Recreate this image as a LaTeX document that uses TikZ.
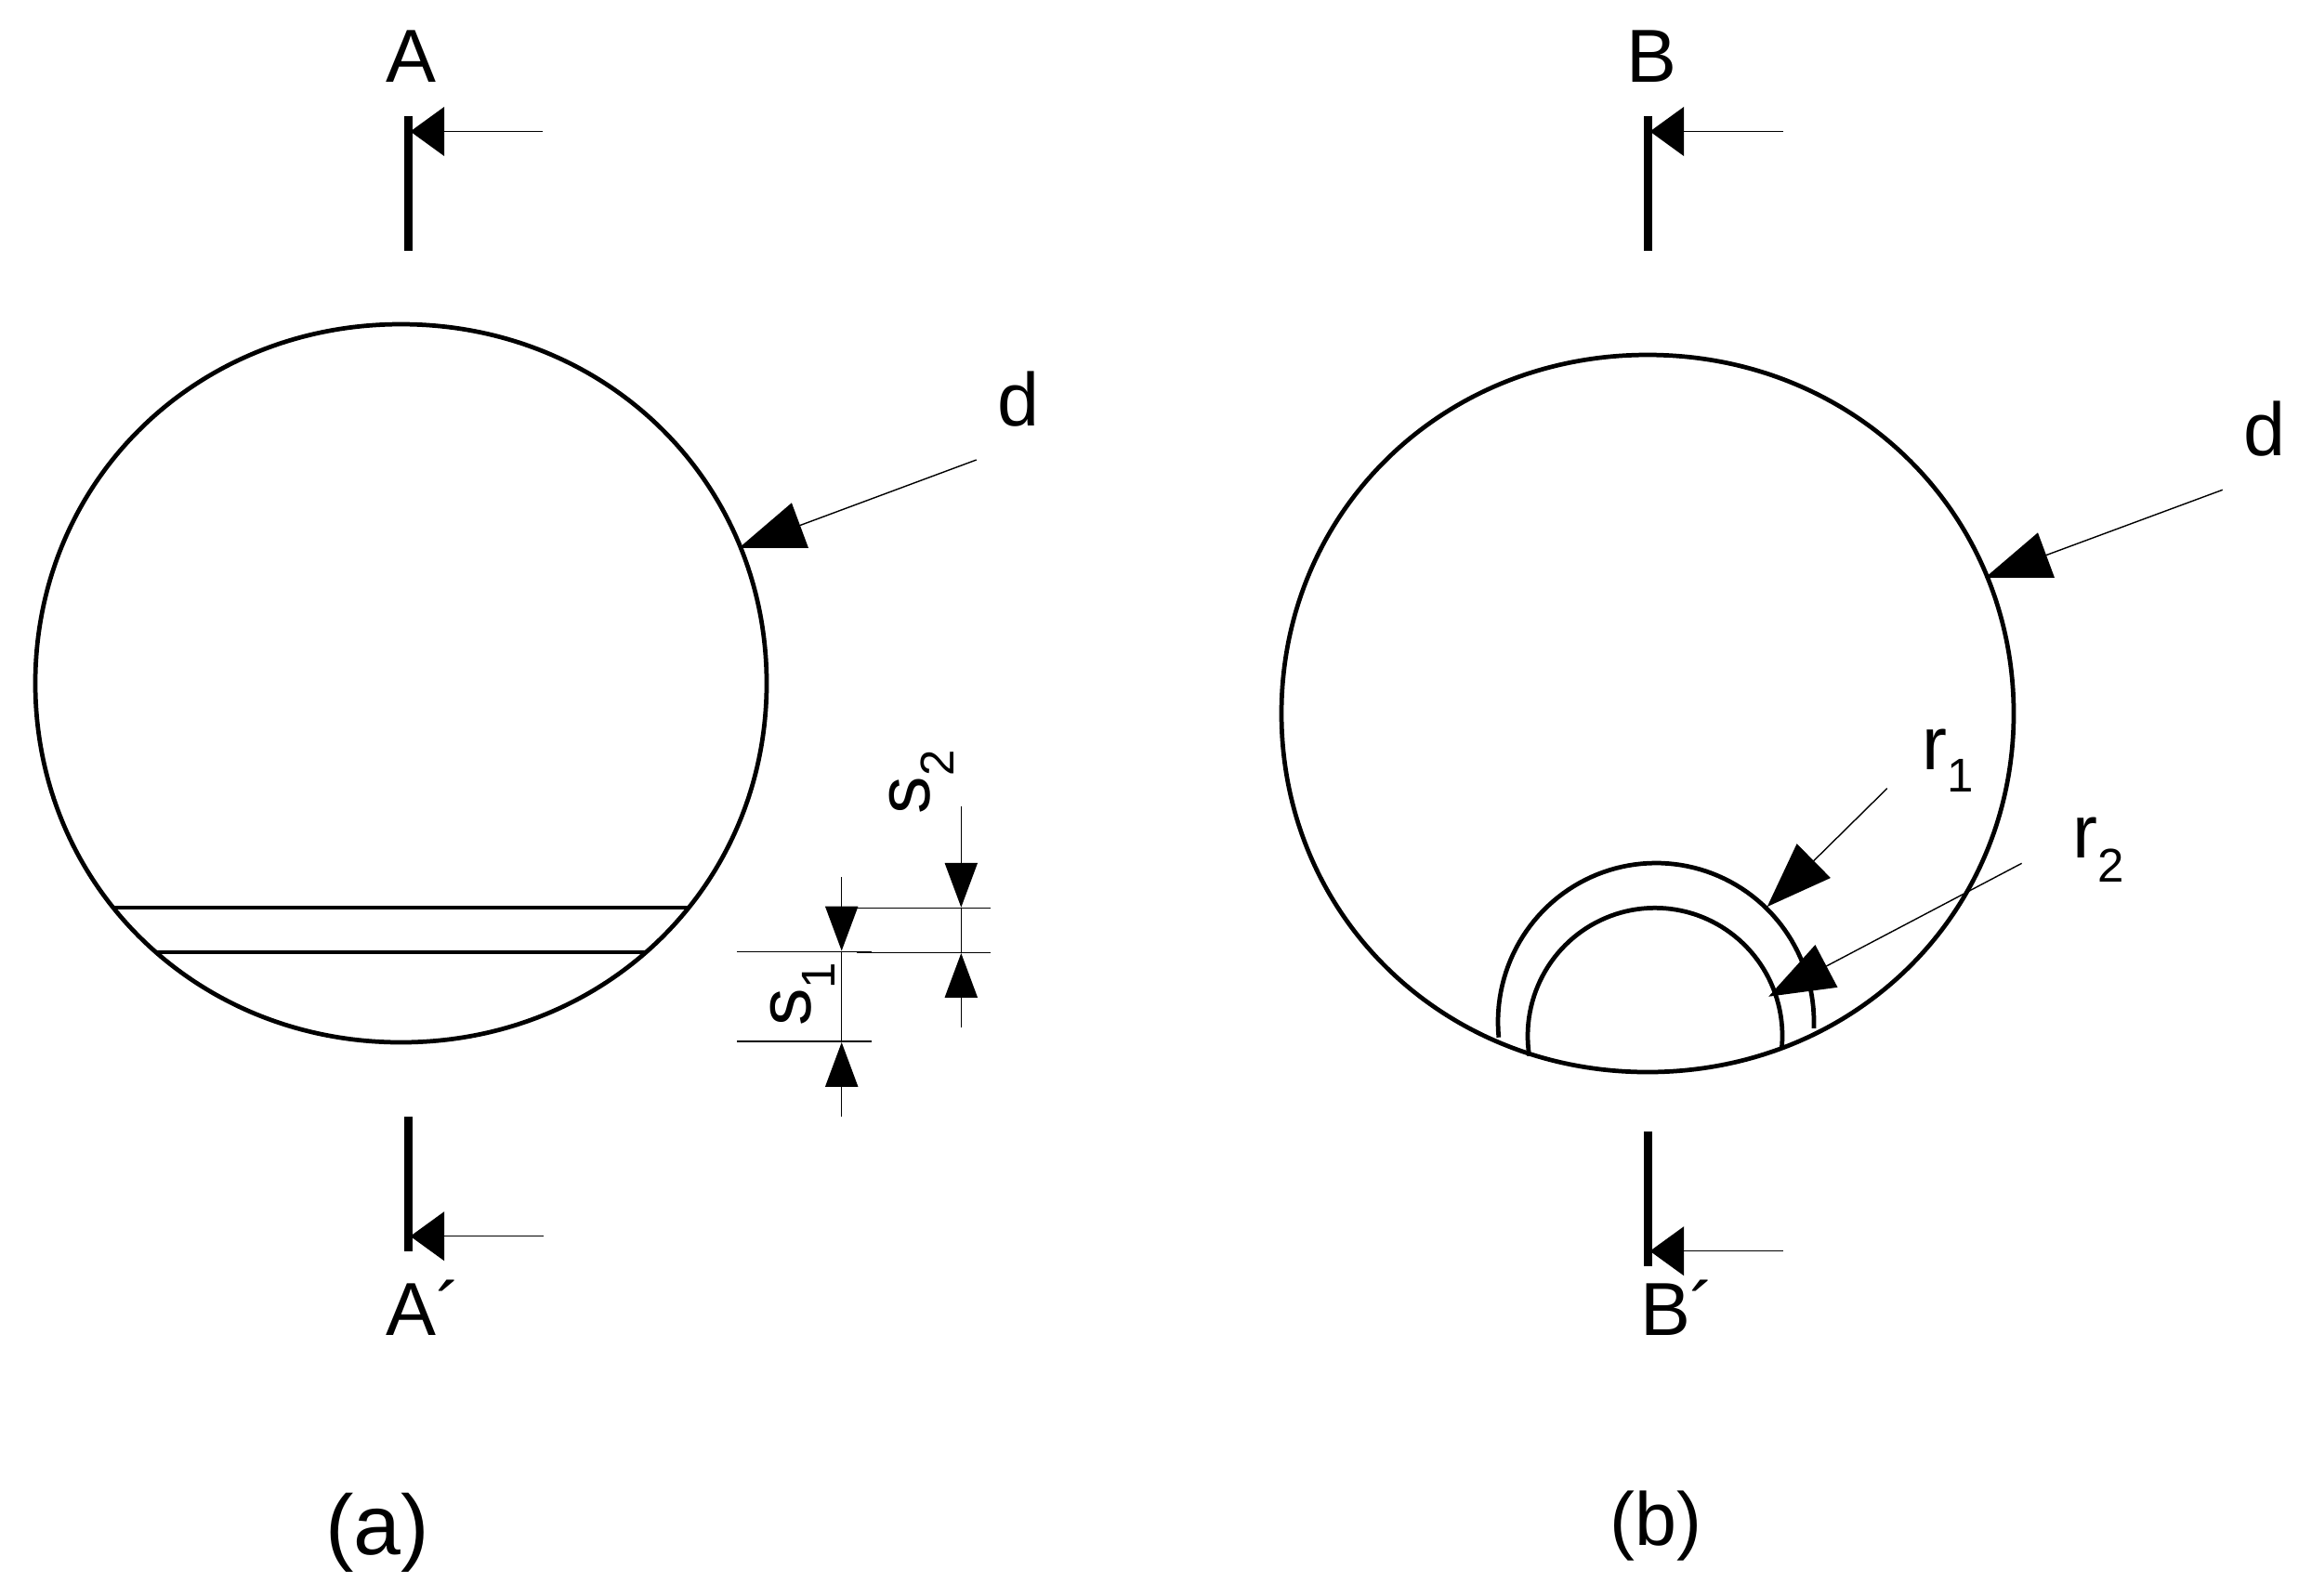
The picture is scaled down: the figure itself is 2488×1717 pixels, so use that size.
\documentclass[tikz,border=0pt]{standalone}
\usepackage{fontspec}
\setmainfont{Liberation Sans}
\usetikzlibrary{arrows.meta}
\newcommand{\subl}[3]{#1\raisebox{-#3}{\fontsize{14.5pt}{16pt}\selectfont #2}}
\tikzset{
  x=0.01cm,y=-0.01cm,
  outline/.style={line width=1.35pt,black},
  heavy/.style={line width=2.7pt,black},
  thin line/.style={line width=0.4pt,black},
  sectionarrow/.style={thin line,-{Triangle[length=10.4pt,width=15pt]}},
  leader/.style={thin line,-{Triangle[length=20pt,width=14.6pt]}},
  dimarrow/.style={thin line,-{Triangle[length=13.6pt,width=10pt]}},
  lab/.style={inner sep=0pt,outer sep=0pt,anchor=base west,font=\fontsize{23pt}{27pt}\selectfont},
}
\begin{document}
\begin{tikzpicture}
\useasboundingbox (0,0) rectangle (2488,1717);
% left figure
\draw[outline] (431.5,349) .. controls (652.6,349) and (825,518.3) .. (825,735.5)
  .. controls (825,952.7) and (652.6,1122) .. (431.5,1122)
  .. controls (210.4,1122) and (38,952.7) .. (38,735.5)
  .. controls (38,518.3) and (210.4,349) .. cycle;
\coordinate (l1a) at (120.5,977); \coordinate (l1b) at (742.5,977);
\coordinate (l2a) at (167,1025); \coordinate (l2b) at (696,1025);
\draw[outline] (l1a) -- (l1b);
\draw[outline] (l2a) -- (l2b);
% section marks A
\coordinate (a1) at (439.7,125); \coordinate (a2) at (439.7,270);
\coordinate (a3) at (439.7,1202); \coordinate (a4) at (439.7,1347);
\draw[heavy] (a1) -- (a2);
\draw[heavy] (a3) -- (a4);
\coordinate (at) at (584.3,141.5); \coordinate (ah) at (441.5,141.5);
\coordinate (bt) at (585,1330.7); \coordinate (bh) at (441.5,1330.7);
\draw[sectionarrow] (at) -- (ah);
\draw[sectionarrow] (bt) -- (bh);
\node[lab] (labA) at (415.2,88) {A};
\node[lab] (labAp) at (415.2,1437) {A´};
% d left
\coordinate (dat) at (1050.7,495); \coordinate (dah) at (795,590);
\draw[leader] (dat) -- (dah);
\node[lab] (labda) at (1073.5,458) {d};
% dimensions
\coordinate (e1a) at (793.3,1024.7); \coordinate (e1b) at (938,1024.7);
\coordinate (e2a) at (793.3,1121); \coordinate (e2b) at (938,1121);
\coordinate (e3a) at (921.3,977.3); \coordinate (e3b) at (1066.3,977.3);
\coordinate (e4a) at (922,1025.3); \coordinate (e4b) at (1066.3,1025.3);
\foreach \p/\q in {e1a/e1b,e2a/e2b,e3a/e3b,e4a/e4b}{\draw[thin line] (\p) -- (\q);}
\coordinate (s1t) at (905.7,944); \coordinate (s1u) at (905.7,1023.5);
\coordinate (s1l) at (905.7,1122); \coordinate (s1b) at (905.7,1201.7);
\draw[dimarrow] (s1t) -- (s1u);
\draw[thin line] (s1u) -- (s1l);
\draw[dimarrow] (s1b) -- (s1l);
\coordinate (s2t) at (1034.3,867.7); \coordinate (s2u) at (1034.3,976.7);
\coordinate (s2l) at (1034.3,1026); \coordinate (s2b) at (1034.3,1105.7);
\draw[dimarrow] (s2t) -- (s2u);
\draw[thin line] (s2u) -- (s2l);
\draw[dimarrow] (s2b) -- (s2l);
\node[lab,rotate=90] (labs1) at (872,1104.5) {\subl{s}{1}{7.4pt}};
\node[lab,rotate=90] (labs2) at (1000.7,876) {\subl{s}{2}{7.4pt}};
% right figure
\draw[outline] (1773,382) .. controls (1994.4,382) and (2167,551.1) .. (2167,768)
  .. controls (2167,984.9) and (1994.4,1154) .. (1773,1154)
  .. controls (1551.6,1154) and (1379,984.9) .. (1379,768)
  .. controls (1379,551.1) and (1551.6,382) .. cycle;
\draw[outline] plot[domain=185.6:-2.3,samples=80] ({1782+170*cos(\x)},{1100-171*sin(\x)});
\draw[outline] plot[domain=189:-5.5,samples=80] ({1781+137*cos(\x)},{1115-137.7*sin(\x)});
\coordinate (b1) at (1773.7,125); \coordinate (b2) at (1773.7,270);
\coordinate (b3) at (1773.7,1218); \coordinate (b4) at (1773.7,1363);
\draw[heavy] (b1) -- (b2);
\draw[heavy] (b3) -- (b4);
\coordinate (ct) at (1918.7,141.5); \coordinate (ch) at (1775.5,141.5);
\coordinate (dt) at (1918.7,1346.7); \coordinate (dh) at (1775.5,1346.7);
\draw[sectionarrow] (ct) -- (ch);
\draw[sectionarrow] (dt) -- (dh);
\node[lab] (labB) at (1750,88) {B};
\node[lab] (labBp) at (1765,1437.3) {B´};
\coordinate (dbt) at (2391.7,527.3); \coordinate (dbh) at (2136,622);
\draw[leader] (dbt) -- (dbh);
\node[lab] (labdb) at (2414.5,490) {d};
\coordinate (r1t) at (2030.7,848.7); \coordinate (r1h) at (1901.7,976);
\coordinate (r2t) at (2175.6,929.3); \coordinate (r2h) at (1903.2,1072.7);
\draw[leader] (r1t) -- (r1h);
\draw[leader] (r2t) -- (r2h);
\node[lab] (labr1) at (2068.5,828.3) {\subl{r}{1}{6.8pt}};
\node[lab] (labr2) at (2230.5,923.3) {\subl{r}{2}{7.5pt}};
% captions
\node[inner sep=0pt,anchor=base,font=\fontsize{26pt}{30pt}\selectfont] (capa) at (406,1673) {(a)};
\node[inner sep=0pt,anchor=base,font=\fontsize{23pt}{26pt}\selectfont] (capb) at (1781.5,1663.3) {(b)};
\end{tikzpicture}
\end{document}
